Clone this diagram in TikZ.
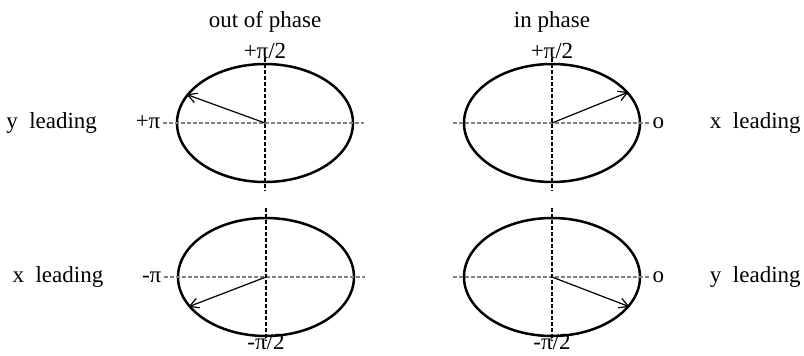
\documentclass[tikz,border=0pt]{standalone}
\usepackage{fontspec}
\setmainfont{Liberation Serif}
\usetikzlibrary{arrows.meta,positioning,shapes.geometric}

\begin{document}
\begin{tikzpicture}[x=0.5pt,y=-0.5pt,>={Straight Barb[length=4.5pt,width=5pt]},
    font=\fontsize{11.5}{13}\selectfont,
    orbit/.style={ellipse,draw,line width=1.25pt,minimum width=88pt,minimum height=59pt,inner sep=0pt},
    tag/.style={inner sep=1pt,text height=1.6ex,text depth=0.4ex},
    vaxis/.style={dash pattern=on 2pt off 1pt,line width=0.55pt},
    haxis/.style={dash pattern=on 2pt off 1pt,gray,line width=0.7pt},
    phasor/.style={->,line width=0.6pt}]
  \useasboundingbox (0,0) rectangle (804,355);
  \node[orbit] (tl) at (265,123) {};
  \node[orbit] (tr) at (552,123) {};
  \node[orbit] (bl) at (266,277) {};
  \node[orbit] (br) at (552,277) {};
  \node[tag,above=-0.8pt of tl.north] (tlup) {+π/2};
  \node[tag,above=-0.8pt of tr.north] (trup) {+π/2};
  \node[tag,below=-2.5pt of bl.south] (bldown) {-π/2};
  \node[tag,below=-2.5pt of br.south] (brdown) {-π/2};
  \node[tag,above=4pt of tlup] (outp) {out of phase};
  \node[tag,above=4pt of trup] (inp) {in phase};
  \node[tag,left=6.5pt of tl.west] (tlpi) {+π};
  \node[tag,left=17pt of tlpi] (tllead) {y~~leading};
  \node[tag,left=6.5pt of bl.west] (blpi) {-π};
  \node[tag,left=17pt of blpi] (bllead) {x~~leading};
  \node[tag,right=4.5pt of tr.east] (trzero) {o};
  \node[tag,right=20.5pt of trzero] (trlead) {x~~leading};
  \node[tag,right=4.5pt of br.east] (brzero) {o};
  \node[tag,right=20.5pt of brzero] (brlead) {y~~leading};
  \draw[haxis] (tlpi) -- ([xshift=5pt]tl.east);
  \draw[haxis] (blpi) -- ([xshift=5pt]bl.east);
  \draw[haxis] ([xshift=-5pt]tr.west) -- (trzero);
  \draw[haxis] ([xshift=-5pt]br.west) -- (brzero);
  \draw[vaxis] ([yshift=2.5pt]tl.north) -- ([yshift=-3.5pt]tl.south);
  \draw[vaxis] ([yshift=2.5pt]tr.north) -- ([yshift=-3.5pt]tr.south);
  \draw[vaxis] ([yshift=4.5pt]bl.north) -- ([yshift=-2pt]bl.south);
  \draw[vaxis] ([yshift=4.5pt]br.north) -- ([yshift=-2pt]br.south);
  \draw[phasor] (tl.center) -- (tl.160);
  \draw[phasor] (tr.center) -- (tr.22);
  \draw[phasor] (bl.center) -- (bl.201);
  \draw[phasor] (br.center) -- (br.-21);
\end{tikzpicture}
\end{document}
